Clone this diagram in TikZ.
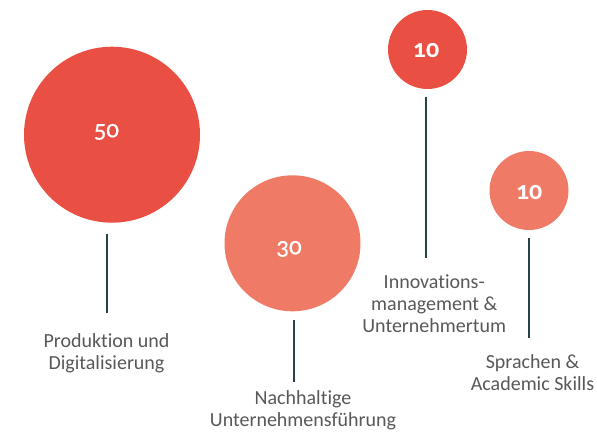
\documentclass[tikz,border=0pt]{standalone}
\usepackage{fontspec}
\setmainfont{Carlito}[Ligatures={TeX,NoCommon}]
\newfontfamily\numfont[Numbers=OldStyle]{Carlito}
\newfontfamily\numfontmid[Numbers=OldStyle,FakeBold=0.6]{Carlito}
\definecolor{redA}{RGB}{233,80,67}
\definecolor{salmonA}{RGB}{239,122,101}
\definecolor{stemC}{RGB}{38,66,72}
\definecolor{labelC}{RGB}{88,88,88}
\begin{document}
\begin{tikzpicture}[x=1pt,y=-1pt,
  bubble/.style={circle,inner sep=0pt,draw=none},
  numlab/.style={text=white,inner sep=0pt,anchor=base,font=\numfontmid\fontsize{25}{27}\selectfont},
  numbold/.style={text=white,inner sep=0pt,anchor=base,font=\numfont\bfseries\fontsize{26}{28}\selectfont},
  caption/.style={text=labelC,inner sep=0pt,anchor=base,align=center,font=\fontsize{20}{22}\selectfont},
  stem/.style={draw=stemC,line width=2pt}]
\useasboundingbox (0,0) rectangle (597,434);
\fill[white] (0,0) rectangle (597,434);
% bubbles
\node[bubble,fill=redA,minimum size=176pt] (c1) at (112,134.7) {};
\node[bubble,fill=salmonA,minimum size=136pt] (c2) at (292.5,243.3) {};
\node[bubble,fill=redA,minimum size=79pt] (c3) at (427.5,49.5) {};
\node[bubble,fill=salmonA,minimum size=79pt] (c4) at (529,190.5) {};
% numbers
\node[numlab] (n1) at (106.3,137.3) {50};
\node[numlab] (n2) at (289,254.3) {30};
\node[numbold] (n3) at (426,57.7) {10};
\node[numbold] (n4) at (529.2,199) {10};
% captions (anchor at baseline of last line)
\node[caption] (t1) at (106.5,369.3) {Produktion und\\Digitalisierung};
\node[caption] (t2) at (303,426.7) {Nachhaltige\\Unternehmensführung};
\node[caption] (t3) at (434.2,332.5) {Innovations-\\management \&\\Unternehmertum};
\node[caption] (t4) at (532.5,390.7) {Sprachen \&\\Academic Skills};
% stems
\coordinate (e1) at (107.3,313);
\coordinate (e2) at (294.3,381.7);
\coordinate (e3) at (425.7,258);
\coordinate (e4) at (528.7,338);
\draw[stem] ([yshift=-10.6pt]c1.south -| e1) -- (e1);
\draw[stem] ([yshift=-8pt]c2.south -| e2) -- (e2);
\draw[stem] ([yshift=-8pt]c3.south -| e3) -- (e3);
\draw[stem] ([yshift=-8pt]c4.south -| e4) -- (e4);
\end{tikzpicture}
\end{document}
